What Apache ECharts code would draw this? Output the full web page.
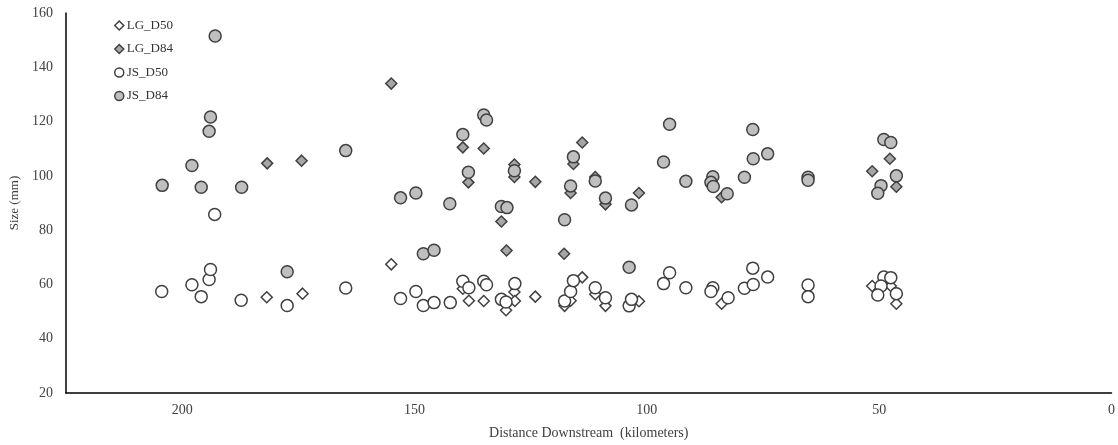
<!DOCTYPE html>
<html>
<head>
<meta charset="utf-8">
<script src="https://cdn.jsdelivr.net/npm/echarts@6/dist/echarts.min.js"></script>
<style>
  html, body { margin: 0; padding: 0; background: #fff; }
  #chart { width: 1118px; height: 445px; }
</style>
</head>
<body>
<div id="chart"></div>
<script>
// [distance km, size mm]
var lgD50 = [
  [181.8, 55.3], [174.1, 56.6], [155.0, 67.4], [139.6, 58.4], [138.3, 54.0],
  [135.1, 53.9], [130.3, 50.5], [128.5, 57.2], [128.4, 53.9], [124.0, 55.5],
  [117.7, 52.1], [116.4, 54.0], [113.9, 62.6], [111.1, 56.4], [108.9, 52.1],
  [101.7, 53.8], [83.9, 52.9], [51.5, 59.4], [47.5, 59.4], [46.3, 52.9]
];
var lgD84 = [
  [181.7, 104.6], [174.3, 105.6], [155.0, 134.0], [139.6, 110.5], [138.4, 97.6],
  [135.1, 110.1], [131.3, 83.2], [130.2, 72.5], [128.5, 104.2], [128.5, 99.6],
  [124.0, 97.8], [117.8, 71.3], [116.4, 93.7], [115.8, 104.4], [113.9, 112.3],
  [111.1, 99.6], [108.9, 89.5], [101.7, 93.7], [83.9, 92.1], [51.5, 101.7],
  [47.7, 106.3], [46.3, 96.0]
];
var jsD50 = [
  [204.4, 57.4], [197.9, 59.9], [195.9, 55.5], [194.2, 61.8], [193.9, 65.5],
  [193.0, 85.8], [187.3, 54.2], [177.4, 52.2], [164.8, 58.7], [153.0, 54.8],
  [149.7, 57.4], [148.1, 52.2], [145.8, 53.3], [142.3, 53.3], [139.6, 61.2],
  [138.3, 58.8], [135.1, 61.2], [134.5, 59.9], [131.3, 54.5], [130.3, 53.5],
  [128.4, 60.3], [117.7, 53.9], [116.4, 57.4], [115.8, 61.4], [111.1, 58.8],
  [108.9, 55.1], [103.8, 52.1], [103.3, 54.5], [96.4, 60.3], [95.1, 64.3],
  [91.6, 58.8], [85.8, 58.8], [86.2, 57.4], [82.5, 55.1], [79.0, 58.6],
  [77.2, 66.0], [77.1, 60.0], [74.0, 62.7], [65.3, 59.8], [65.3, 55.5],
  [49.0, 62.7], [47.5, 62.5], [49.6, 59.4], [50.3, 56.1], [46.3, 56.6]
];
var jsD84 = [
  [204.3, 96.5], [197.9, 103.8], [195.9, 95.8], [194.2, 116.4], [193.9, 121.7],
  [192.9, 151.5], [187.2, 95.8], [177.4, 64.7], [164.8, 109.3], [153.0, 91.9],
  [149.7, 93.7], [148.1, 71.3], [145.8, 72.6], [142.4, 89.7], [139.6, 115.2],
  [138.4, 101.3], [135.1, 122.4], [134.5, 120.6], [131.3, 88.7], [130.1, 88.3],
  [128.5, 101.9], [117.7, 83.8], [116.4, 96.3], [115.8, 107.0], [111.1, 98.1],
  [108.9, 91.8], [103.8, 66.3], [103.3, 89.3], [96.4, 105.1], [95.1, 119.0],
  [91.6, 98.0], [85.8, 99.7], [86.2, 97.6], [85.7, 96.1], [82.7, 93.4],
  [79.0, 99.5], [77.2, 117.1], [77.1, 106.3], [74.0, 108.1], [65.3, 99.5],
  [65.3, 98.4], [49.0, 113.4], [47.5, 112.3], [46.3, 100.0], [49.6, 96.4],
  [50.3, 93.6]
];

var font = '"Liberation Serif", "Times New Roman", serif';
var chart = echarts.init(document.getElementById('chart'));

function mk(name, data, symbol, size, fill) {
  return {
    name: name,
    type: 'scatter',
    data: data,
    symbol: symbol,
    symbolSize: size,
    itemStyle: { color: fill, borderColor: '#404040', borderWidth: 1.5, opacity: 1 }
  };
}

var option = {
  animation: false,
  backgroundColor: '#fff',
  grid: { left: 63, right: 4, top: 13, bottom: 51 },
  legend: {
    orient: 'vertical',
    left: 109,
    top: 14,
    itemGap: 10.5,
    itemWidth: 9,
    itemHeight: 9,
    itemStyle: { borderWidth: 1.5 },
    textStyle: { fontFamily: font, fontSize: 13, color: '#333', padding: [0, 0, 0, -2] },
    data: ['LG_D50', 'LG_D84', 'JS_D50', 'JS_D84']
  },
  xAxis: {
    type: 'value',
    inverse: true,
    min: 0,
    max: 225,
    interval: 50,
    name: 'Distance Downstream  (kilometers)',
    nameLocation: 'middle',
    nameGap: 33,
    nameTextStyle: { fontFamily: font, fontSize: 14, color: '#404040' },
    splitLine: { show: false },
    axisTick: { show: false },
    axisLine: { onZero: false, lineStyle: { color: '#000', width: 1.5 } },
    axisLabel: {
      fontFamily: font, fontSize: 14, color: '#404040', margin: 10,
      formatter: function (v) { return v % 50 === 0 ? v : ''; }
    }
  },
  yAxis: {
    type: 'value',
    min: 20,
    max: 160,
    interval: 20,
    name: 'Size (mm)',
    nameLocation: 'middle',
    nameGap: 45,
    nameTextStyle: { fontFamily: font, fontSize: 13, color: '#404040' },
    splitLine: { show: false },
    axisTick: { show: false },
    axisLine: { show: true, onZero: false, lineStyle: { color: '#000', width: 1.5 } },
    axisLabel: { fontFamily: font, fontSize: 14, color: '#404040', margin: 13 }
  },
  series: [
    mk('LG_D50', lgD50, 'diamond', 11, '#ffffff'),
    mk('LG_D84', lgD84, 'diamond', 11, '#a6a6a6'),
    mk('JS_D50', jsD50, 'circle', 12, '#ffffff'),
    mk('JS_D84', jsD84, 'circle', 12, '#bfbfbf')
  ]
};

chart.setOption(option);
</script>
</body>
</html>
